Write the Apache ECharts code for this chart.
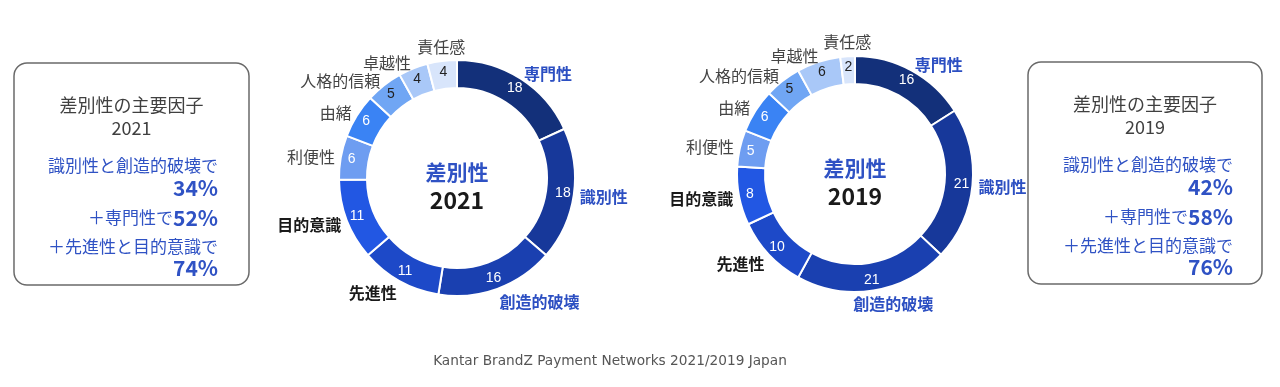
<!DOCTYPE html>
<html>
<head>
<meta charset="utf-8">
<script src="https://cdn.jsdelivr.net/npm/echarts@6/dist/echarts.min.js"></script>
<style>
html,body{margin:0;padding:0;background:#fff;}
#chart{width:1280px;height:387px;}
</style>
</head>
<body>
<div id="chart"></div>
<script>
// ---- data ----
var categories = ['専門性','識別性','創造的破壊','先進性','目的意識','利便性','由緒','人格的信頼','卓越性','責任感'];
var values2021 = [18,18,16,11,11,6,6,5,4,4];
var values2019 = [16,21,21,10,8,5,6,5,6,2];
var summary2021 = ['識別性と創造的破壊で','34%','＋専門性で','52%','＋先進性と目的意識で','74%'];
var summary2019 = ['識別性と創造的破壊で','42%','＋専門性で','58%','＋先進性と目的意識で','76%'];
var footerText = 'Kantar BrandZ Payment Networks 2021/2019 Japan';

// ---- styles ----
var sliceColors = ['#13307a','#17389a','#1a40b0','#1d49c8','#2257e3','#6e9df1','#3a83f4','#70a6f4','#a9c8f8','#d8e5fb'];
var valueColors = ['#fff','#fff','#fff','#fff','#fff','#fff','#fff','#222','#222','#222'];
var nameStyle = [
  {color:'#2c4fc2',fontWeight:'bold'},{color:'#2c4fc2',fontWeight:'bold'},{color:'#2c4fc2',fontWeight:'bold'},
  {color:'#1a1a1a',fontWeight:'bold'},{color:'#1a1a1a',fontWeight:'bold'},
  {color:'#444',fontWeight:'normal'},{color:'#444',fontWeight:'normal'},{color:'#444',fontWeight:'normal'},
  {color:'#444',fontWeight:'normal'},{color:'#444',fontWeight:'normal'}
];
var JP = '"Noto Sans CJK JP", sans-serif';
var BLUE = '#2f52c4';
var RIN = 90, ROUT = 118, GAP = 6;

function ringData(vals){
  return vals.map(function(v,i){
    return {name:categories[i], value:v,
      itemStyle:{color:sliceColors[i]},
      label:{color:valueColors[i]}};
  });
}
function nameData(vals){
  return vals.map(function(v,i){
    return {name:categories[i], value:v,
      label:{color:nameStyle[i].color, fontWeight:nameStyle[i].fontWeight}};
  });
}
function makeLayout(vals, center){
  var total = vals.reduce(function(a,b){return a+b;},0);
  return function(params){
    var i = params.dataIndex, before = 0;
    for (var k=0;k<i;k++) before += vals[k];
    var ang = (before + vals[i]/2)/total*2*Math.PI; // clockwise from top
    var dx = Math.sin(ang), dy = -Math.cos(ang);
    var r = ROUT + GAP;
    var px = center[0] + dx*r, py = center[1] + dy*r;
    var w = params.labelRect.width, h = params.labelRect.height;
    var near = dy < 0 && Math.abs(dx) < 0.2;
    var ox = near ? 0 : (dx>=0?1:-1) * w/2 * Math.min(1, Math.abs(dx)*3);
    var oy = dy>0 ? h/2*dy : (near ? -h/2 : 0);
    return {x:px+ox, y:py+oy, align:'center', verticalAlign:'middle', hideOverlap:false, moveOverlap:null};
  };
}
function pieSeries(vals, center){
  return [{
    type:'pie', center:center, radius:[RIN,ROUT], startAngle:90, clockwise:true,
    avoidLabelOverlap:false, silent:true,
    itemStyle:{borderColor:'#fff', borderWidth:2},
    label:{show:true, position:'inside', formatter:'{c}', fontSize:14, fontFamily:'"Liberation Sans", Arial, sans-serif'},
    labelLine:{show:false},
    data:ringData(vals)
  },{
    type:'pie', center:center, radius:[RIN,ROUT], startAngle:90, clockwise:true,
    avoidLabelOverlap:false, silent:true,
    itemStyle:{color:'rgba(0,0,0,0)'},
    label:{show:true, position:'outside', formatter:'{b}', fontSize:16, fontFamily:JP},
    labelLine:{show:false, length:6, length2:0},
    labelLayout:makeLayout(vals, center),
    data:nameData(vals)
  }];
}

function boxGraphics(x,y,w,h,year,lines,rightX){
  var cx = x + w/2;
  var g = [];
  g.push({type:'rect', shape:{x:x,y:y,width:w,height:h,r:13}, style:{fill:'#fff', stroke:'#6a6a6a', lineWidth:1.5}});
  g.push({type:'text', x:cx, y:y+42, style:{text:'差別性の主要因子', font:'18px '+JP, fill:'#404040', align:'center', verticalAlign:'middle'}});
  g.push({type:'text', x:cx, y:y+65, style:{text:year, font:'18px '+JP, fill:'#404040', align:'center', verticalAlign:'middle'}});
  g.push({type:'text', x:rightX, y:y+103, style:{text:lines[0], font:'17px '+JP, fill:BLUE, align:'right', verticalAlign:'middle'}});
  g.push({type:'text', x:rightX, y:y+125, style:{text:lines[1], font:'bold 21px '+JP, fill:BLUE, align:'right', verticalAlign:'middle'}});
  g.push({type:'text', x:rightX, y:y+155, style:{
    text:'{a|'+lines[2]+'}{b|'+lines[3]+'}', align:'right', verticalAlign:'middle',
    rich:{a:{font:'17px '+JP, fill:BLUE, color:BLUE}, b:{font:'bold 21px '+JP, fill:BLUE, color:BLUE}}}});
  g.push({type:'text', x:rightX, y:y+184, style:{text:lines[4], font:'17px '+JP, fill:BLUE, align:'right', verticalAlign:'middle'}});
  g.push({type:'text', x:rightX, y:y+205, style:{text:lines[5], font:'bold 21px '+JP, fill:BLUE, align:'right', verticalAlign:'middle'}});
  return g;
}
function centerText(cx,cy,year){
  return [
    {type:'text', x:cx, y:cy-6, style:{text:'差別性', font:'bold 21px '+JP, fill:BLUE, align:'center', verticalAlign:'middle'}},
    {type:'text', x:cx, y:cy+22, style:{text:year, font:'bold 23px '+JP, fill:'#1a1a1a', align:'center', verticalAlign:'middle'}}
  ];
}

var c2021 = [457,178], c2019 = [855,174];
var graphics = [].concat(
  boxGraphics(14,63,235,222,'2021',summary2021,218),
  boxGraphics(1028,62,234,222,'2019',summary2019,1233),
  centerText(c2021[0],c2021[1],'2021'),
  centerText(c2019[0],c2019[1],'2019'),
  [{type:'text', x:610, y:361, style:{text:footerText, font:'13.7px "DejaVu Sans", sans-serif', fill:'#555', align:'center', verticalAlign:'middle'}}]
);

var chart = echarts.init(document.getElementById('chart'), null, {renderer:'canvas'});
chart.setOption({
  animation:false,
  backgroundColor:'#fff',
  series:[].concat(pieSeries(values2021,c2021), pieSeries(values2019,c2019)),
  graphic:graphics
});
</script>
</body>
</html>
